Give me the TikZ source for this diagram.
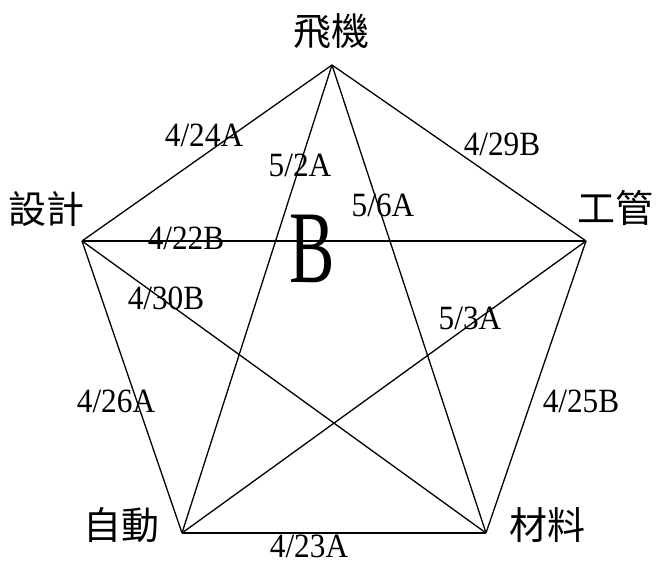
\documentclass[tikz,border=0pt]{standalone}
\usepackage{fontspec}
\usepackage{graphicx}
\setmainfont{Liberation Serif}
\newfontfamily\cjk{Noto Sans CJK TC}
\newcommand{\thinchars}[2]{\scalebox{#1}[1]{#2}}

\begin{document}
\begin{tikzpicture}[x=1pt, y=-1pt, line width=1.3pt,
    place/.style={font=\cjk\fontsize{38}{38}\selectfont, inner sep=0pt},
    datelbl/.style={font=\fontsize{34}{34}\selectfont, inner sep=0pt, text depth=0pt}]
        \useasboundingbox (0,0) rectangle (657,563);

        % Pentagon corners
        \coordinate (fly) at (332,65);
        \coordinate (design) at (82,241);
        \coordinate (mgmt) at (586,241);
        \coordinate (auto) at (182,533);
        \coordinate (mat) at (486,533);

        % Department names
        \node[place] (flyname) at (331,31) {飛機};
        \node[place] (designname) at (47,209) {設計};
        \node[place] (mgmtname) at (615,208) {工管};
        \node[place] (autoname) at (121,525) {自動};
        \node[place] (matname) at (547,525) {材料};

        % Every pair is linked
        \foreach \a/\b in {fly/design, fly/mgmt, fly/auto, fly/mat, design/mgmt,
                           design/auto, design/mat, mgmt/auto, mgmt/mat, auto/mat} {
            \draw (\a) -- (\b);
        }

        % Dates on the links
        \node[datelbl] (d1) at (204,135) {\thinchars{0.92}{4/24A}};
        \node[datelbl] (d2) at (502,144) {\thinchars{0.92}{4/29B}};
        \node[datelbl] (d3) at (300,165) {\thinchars{0.92}{5/2A}};
        \node[datelbl] (d4) at (383,205) {\thinchars{0.92}{5/6A}};
        \node[datelbl] (d5) at (186,238) {\thinchars{0.92}{4/22B}};
        \node[datelbl] (d6) at (166,298) {\thinchars{0.92}{4/30B}};
        \node[datelbl] (d7) at (470,318) {\thinchars{0.92}{5/3A}};
        \node[datelbl] (d8) at (116,401) {\thinchars{0.92}{4/26A}};
        \node[datelbl] (d9) at (581,401) {\thinchars{0.92}{4/25B}};
        \node[datelbl] (d10) at (309,546) {\thinchars{0.92}{4/23A}};

        % Group letter
        \node[inner sep=0pt, font=\fontsize{103}{103}\selectfont] (grp) at (312,249) {\thinchars{0.66}{B}};
    \end{tikzpicture}
\end{document}
